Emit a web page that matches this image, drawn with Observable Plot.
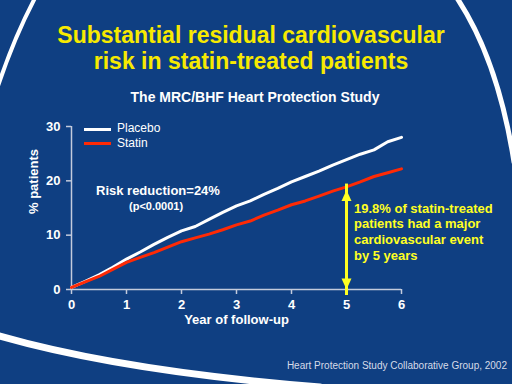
<!DOCTYPE html>
<html>
<head>
<meta charset="utf-8">
<script src="https://cdn.jsdelivr.net/npm/d3@7"></script>
<script src="https://cdn.jsdelivr.net/npm/@observablehq/plot@0.6"></script>
<style>
  html, body { margin: 0; padding: 0; background: #0f3f82; }
  #slide { position: relative; width: 512px; height: 384px; overflow: hidden; background: #0f3f82; font-family: "Liberation Sans", Arial, sans-serif; }
  #slide > * { position: absolute; }
  #deco { left: 0; top: 0; }
  #title { left: -5px; top: 22px; width: 512px; text-align: center; color: #f7ea00; font-weight: bold; font-size: 23px; line-height: 26px; margin: 0; }
  #subtitle { left: -1px; top: 89px; width: 512px; text-align: center; color: #ffffff; font-weight: bold; font-size: 14px; line-height: 16px; }
  #caption { right: 5px; top: 359.5px; color: #d6dbe8; font-size: 10px; line-height: 12px; white-space: nowrap; }
  #chart { left: 0; top: 0; }
  .sw { left: 84px; width: 27px; height: 3px; }
  .lg { left: 117px; color: #ffffff; font-size: 12px; line-height: 14px; }
  #risk { left: 96px; top: 183px; color: #ffffff; font-weight: bold; font-size: 13px; line-height: 15px; white-space: nowrap; }
  #pval { left: 129px; top: 199.7px; color: #ffffff; font-weight: bold; font-size: 11px; line-height: 13px; }
  #note { left: 354px; top: 200.6px; color: #ffff22; font-weight: bold; font-size: 13px; line-height: 15.7px; white-space: nowrap; }
</style>
</head>
<body>
<div id="slide">
  <svg id="deco" width="512" height="384" viewBox="0 0 512 384">
    <g fill="none" stroke="#ffffff" stroke-linecap="round">
      <path d="M35,-2 Q14,38 -2,86" stroke-width="4"/>
      <path d="M457,-2 Q498,60 514,162" stroke-width="5"/>
      <path d="M-4,335 Q120,371 320,387" stroke-width="7"/>
    </g>
  </svg>
  <div id="title">Substantial residual cardiovascular<br>risk in statin-treated patients</div>
  <div id="subtitle">The MRC/BHF Heart Protection Study</div>
  <div id="chart"></div>
  <div class="sw" style="top:128px;background:#ffffff"></div>
  <div class="lg" style="top:121px">Placebo</div>
  <div class="sw" style="top:141.5px;background:#ff2a05"></div>
  <div class="lg" style="top:136px">Statin</div>
  <div id="risk">Risk reduction=24%</div>
  <div id="pval">(p&lt;0.0001)</div>
  <div id="note">19.8% of statin-treated<br>patients had a major<br>cardiovascular event<br>by 5 years</div>
  <div id="caption">Heart Protection Study Collaborative Group, 2002</div>
</div>
<script>
// ---- data ----
const years   = [0, 0.25, 0.5, 0.75, 1.0, 1.25, 1.5, 1.75, 2.0, 2.25, 2.5, 2.75, 3.0, 3.25, 3.5, 3.75, 4.0, 4.25, 4.5, 4.75, 5.0, 5.25, 5.5, 5.75, 6.0];
const placebo = [0.4, 1.5, 2.7, 4.1, 5.6, 6.9, 8.3, 9.6, 10.8, 11.6, 12.9, 14.2, 15.4, 16.3, 17.5, 18.6, 19.8, 20.8, 21.8, 22.9, 23.9, 24.9, 25.7, 27.2, 28.0];
const statin  = [0.4, 1.4, 2.4, 3.7, 5.0, 5.9, 6.8, 7.8, 8.8, 9.5, 10.2, 11.0, 11.9, 12.6, 13.7, 14.6, 15.6, 16.3, 17.2, 18.1, 18.9, 19.8, 20.8, 21.5, 22.2];
const xTicks  = [0, 1, 2, 3, 4, 5, 6];
const yTicks  = [0, 10, 20, 30];
const arrowYear = [5];
const arrowFrom = [0];
const arrowTo   = [18.3];
const xLabel = "Year of follow-up";
const yLabel = "% patients";

// ---- build tables ----
const rows = years.map((y, i) => ({year: y, placebo: placebo[i], statin: statin[i]}));
const arrow = arrowYear.map((x, i) => ({year: x, from: arrowFrom[i], to: arrowTo[i]}));

const axisColor = "#c3cbdc";
const red = "#ff2a05";
const yellow = "#ffff22";

const headUp = {draw(ctx) { ctx.moveTo(0, 0); ctx.lineTo(5, 11); ctx.lineTo(-5, 11); ctx.closePath(); }};
const headDown = {draw(ctx) { ctx.moveTo(0, 0); ctx.lineTo(5, -11); ctx.lineTo(-5, -11); ctx.closePath(); }};

const chart = Plot.plot({
  width: 512,
  height: 384,
  marginLeft: 71,
  marginRight: 111,
  marginTop: 126,
  marginBottom: 95,
  x: {domain: [0, 6]},
  y: {domain: [0, 30]},
  style: {background: "transparent", color: "#ffffff", fontFamily: "'Liberation Sans', Arial, sans-serif", fontSize: "13px", fontWeight: "bold"},
  marks: [
    Plot.ruleY([0], {stroke: axisColor, strokeWidth: 1.5}),
    Plot.ruleX([0], {stroke: axisColor, strokeWidth: 1.5}),
    Plot.axisX(xTicks, {tickSize: 5, tickPadding: 5, stroke: axisColor, strokeWidth: 1.5, fill: "#ffffff", label: null, fontWeight: "bold", fontSize: 13}),
    Plot.axisY(yTicks, {tickSize: 5, tickPadding: 6, stroke: axisColor, strokeWidth: 1.5, fill: "#ffffff", label: null, fontWeight: "bold", fontSize: 13}),
    Plot.line(rows, {x: "year", y: "placebo", stroke: "#ffffff", strokeWidth: 3}),
    Plot.line(rows, {x: "year", y: "statin", stroke: red, strokeWidth: 3}),
    Plot.ruleX(arrow, {x: "year", y1: "from", y2: "to", stroke: yellow, strokeWidth: 3, insetTop: 6, insetBottom: 6}),
    Plot.dot(arrow, {x: "year", y: "to", symbol: headUp, fill: yellow, stroke: "none", r: 5}),
    Plot.dot(arrow, {x: "year", y: "from", symbol: headDown, fill: yellow, stroke: "none", r: 5}),
    Plot.text([xLabel], {text: d => d, frameAnchor: "bottom", dy: 34.5, fill: "#ffffff", fontWeight: "bold", fontSize: 13}),
    Plot.text([yLabel], {text: d => d, frameAnchor: "left", rotate: -90, dx: -38, dy: 6, fill: "#ffffff", fontWeight: "bold", fontSize: 13})
  ]
});
document.getElementById("chart").appendChild(chart);
</script>
</body>
</html>
